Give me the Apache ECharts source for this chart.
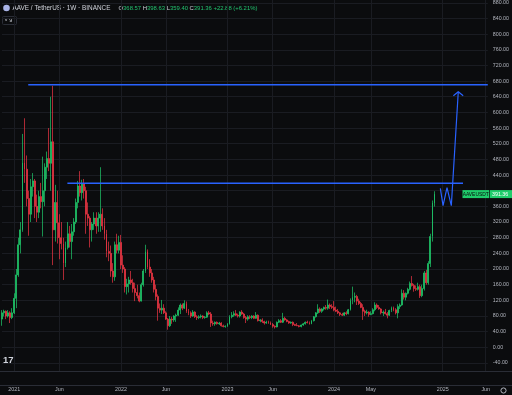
<!DOCTYPE html>
<html><head><meta charset="utf-8">
<script src="https://cdn.jsdelivr.net/npm/echarts@6/dist/echarts.min.js"></script>
<style>html,body{margin:0;padding:0;background:#0b0c0e;}#c{width:512px;height:395px;}</style>
</head><body><div id="c"></div>
<script>
// ---- axis definitions ----
const weekStart = [2020, 10, 23];   // first weekly bar (Mon 23 Nov 2020)
const weekCount = 238;              // bars + empty future space
const xLabelDates = ['2021-01-04','2021-06-07','2022-01-03','2022-06-06','2023-01-02','2023-06-05','2024-01-01','2024-05-06','2025-01-06','2025-06-02'];
const xLabelTexts = ['2021','Jun','2022','Jun','2023','Jun','2024','May','2025','Jun'];
const yTickValues = [-40,0,40,80,120,160,200,240,280,320,360,400,440,480,520,560,600,640,680,720,760,800,840,880];
const yLabelValues = [-40,0,40,80,120,160,200,240,280,320,360,440,480,520,560,600,640,680,720,760,800,840,880];

// ---- weekly candles [open, high, low, close] ----
const ohlc2020 = [
  [72,95,55,88],[88,96,79,92],[92,94,72,80],[80,95,76,88],[88,92,62,76],[76,100,72,88]
];
const ohlc2021 = [
  [88,138,85,125],[125,200,100,185],[185,280,180,262],[262,320,240,300],[300,545,295,472],[472,585,420,455],[455,490,360,380],[380,400,285,340],
  [340,430,320,410],[410,445,385,425],[425,430,330,360],[360,390,320,345],[345,400,330,385],[385,420,355,372],[372,487,283,400],[400,470,360,460],
  [460,500,430,482],[482,560,450,470],[470,640,400,525],[525,668,210,300],[300,415,270,370],[370,400,265,318],[318,340,225,280],[280,320,250,265],
  [265,280,172,215],[215,270,205,255],[255,320,250,290],[290,310,255,270],[270,315,225,295],[295,330,285,320],[320,380,315,370],[370,425,355,412],
  [412,450,385,395],[395,428,375,418],[418,430,380,400],[400,410,290,340],[340,370,310,330],[330,335,255,300],[300,320,270,315],[315,345,300,330],
  [330,345,290,310],[310,345,295,330],[330,460,295,340],[340,355,300,310],[310,330,275,290],[290,300,230,245],[245,270,220,240],[240,260,180,195],
  [195,215,165,180],[180,270,170,262],[262,290,240,248],[248,285,240,268]
];
const ohlc2022 = [
  [268,287,200,210],[210,235,190,200],[200,205,140,155],[155,175,135,162],[162,180,140,172],[172,195,160,165],[165,175,140,150],[150,165,118,140],
  [140,160,125,132],[132,140,115,118],[118,165,117,160],[160,200,155,195],[195,262,190,245],[245,250,200,205],[205,225,180,190],[190,200,165,172],
  [172,180,140,148],[148,160,120,130],[130,135,68,100],[100,112,88,95],[95,121,85,100],[100,110,85,88],[88,92,70,72],[72,75,45,55],
  [55,80,52,72],[72,78,60,70],[70,82,65,80],[80,86,65,82],[82,102,80,95],[95,112,85,108],[108,112,95,100],[100,120,98,112],
  [112,117,88,92],[92,98,82,88],[88,92,75,80],[80,95,78,90],[90,92,75,78],[78,82,70,76],[76,82,72,78],[78,84,74,80],
  [80,82,72,76],[76,80,73,77],[77,92,75,88],[88,93,82,85],[85,90,52,62],[62,68,55,60],[60,66,55,64],[64,66,58,60],
  [60,65,57,62],[62,64,53,55],[55,58,51,53],[53,56,50,54]
];
const ohlc2023 = [
  [54,62,52,60],[60,82,58,78],[78,90,74,82],[82,92,78,86],[86,95,80,82],[82,86,76,80],[80,92,76,90],[90,95,83,85],
  [85,88,73,76],[76,80,62,72],[72,82,68,78],[78,82,72,76],[76,82,72,80],[80,82,72,74],[74,90,73,82],[82,84,66,68],
  [68,72,64,70],[70,74,62,66],[66,68,58,62],[62,68,60,64],[64,68,60,62],[62,66,57,58],[58,62,50,54],[54,56,48,52],
  [52,66,51,64],[64,72,62,68],[68,72,62,64],[64,88,62,74],[74,78,68,70],[70,72,64,66],[66,68,60,62],[62,66,60,64],
  [64,66,54,58],[58,60,55,56],[56,62,54,55],[55,57,51,53],[53,58,51,57],[57,62,55,60],[60,66,58,64],[64,68,61,63],
  [63,66,58,60],[60,70,59,68],[68,80,66,78],[78,90,76,88],[88,110,85,98],[98,102,88,92],[92,100,88,98],[98,104,94,102],
  [102,108,96,100],[100,122,96,108],[108,112,98,104],[104,110,98,102]
];
const ohlc2024 = [
  [102,118,92,95],[95,104,90,92],[92,98,85,88],[88,90,80,84],[84,88,80,82],[82,90,80,88],[88,92,82,86],[86,98,84,96],
  [96,125,94,120],[120,155,110,128],[128,140,115,130],[130,134,108,118],[118,124,108,112],[112,116,100,102],[102,110,70,92],[92,96,80,88],
  [88,96,84,90],[90,92,78,84],[84,92,82,86],[86,100,84,96],[96,115,92,108],[108,112,98,102],[102,108,96,98],[98,100,84,88],
  [88,94,80,90],[90,98,84,86],[86,90,74,82],[82,96,80,94],[94,104,90,100],[100,104,92,96],[96,100,84,88],[88,110,74,104],
  [104,112,98,108],[108,148,106,138],[138,146,122,128],[128,140,120,138],[138,152,135,148],[148,168,145,163],[163,182,155,158],[158,162,142,150],
  [150,158,144,148],[148,165,145,155],[155,160,126,132],[132,160,128,150],[150,195,145,190],[190,198,160,165],[165,220,160,214],[214,290,205,283],
  [283,375,270,368.57],[368.57,398.63,359.40,391.36]
];
const legendChange = '+22.88 (+6.21%)';

// ---- drawings (x in bar-index units, y in price) ----
const resistanceTop = 670.7;
const resistanceTopSpan = [12.8, 237];
const resistanceMid = 419;
const resistanceMidSpan = [31.9, 224.9];
const projectionPath = [[213.85,406],[215.17,361.7],[217.1,407.7],[219.2,361.7],[222.6,652.9]];
const arrowHead = [[220.2,642.7],[222.6,652.9],[225.0,642.7]];

// ---- build ----
function iso(d){return d.toISOString().slice(0,10);}
const weeks = [];
{
  const d = new Date(Date.UTC(weekStart[0], weekStart[1], weekStart[2]));
  for (let i = 0; i < weekCount; i++) { weeks.push(iso(d)); d.setUTCDate(d.getUTCDate() + 7); }
}
const labelMap = {};
xLabelDates.forEach((d, i) => labelMap[d] = xLabelTexts[i]);
const isLabel = (idx, val) => labelMap[val] !== undefined;
const rows = [].concat(ohlc2020, ohlc2021, ohlc2022, ohlc2023, ohlc2024);
const toCandle = r => [r[0], r[3], r[2], r[1]];   // echarts order: open, close, low, high
const upCandles = rows.map(r => r[3] >= r[0] ? toCandle(r) : '-');
const downCandles = rows.map(r => r[3] < r[0] ? toCandle(r) : '-');
const lastRow = rows[rows.length - 1];
const lastClose = lastRow[3];

const UP = '#1fcc6b', DOWN = '#f23645', BLUE = '#2962ff';
const FONT = '"Liberation Sans", Arial, sans-serif';
const solid = c => ({color: c, color0: c, borderColor: c, borderColor0: c, borderColorDoji: c, borderWidth: 0.7, opacity: 1});

const chart = echarts.init(document.getElementById('c'), null, {renderer: 'canvas'});
chart.setOption({
  backgroundColor: '#0b0c0e',
  animation: false,
  grid: {left: 2, right: 22, top: 0, bottom: 24, containLabel: false},
  xAxis: [{
    type: 'category', data: weeks, boundaryGap: false,
    axisLine: {show: false}, axisTick: {show: false},
    axisLabel: {interval: isLabel, formatter: v => labelMap[v] || '', color: '#b2b5be', fontSize: 5.4, fontFamily: FONT, margin: 16, hideOverlap: false},
    splitLine: {show: true, interval: isLabel, lineStyle: {color: '#1a1c22', width: 1}}
  }, {
    type: 'value', min: 0, max: weekCount - 1, show: false
  }],
  yAxis: [{
    type: 'value', position: 'right', min: -60.5, max: 887.1, scale: true,
    axisLine: {show: false},
    axisTick: {show: false, customValues: yTickValues},
    axisLabel: {customValues: yLabelValues, formatter: v => v.toFixed(2), color: '#b2b5be', fontSize: 5.3, fontFamily: FONT, margin: 5},
    splitLine: {show: true, lineStyle: {color: '#1a1c22', width: 1}}
  }],
  series: [{
    type: 'candlestick', name: 'up', xAxisIndex: 0, yAxisIndex: 0, data: upCandles, barWidth: 1.4,
    itemStyle: solid(UP), emphasis: {disabled: true}
  }, {
    type: 'candlestick', name: 'down', xAxisIndex: 0, yAxisIndex: 0, data: downCandles, barWidth: 1.4,
    itemStyle: solid(DOWN), emphasis: {disabled: true}
  }, {
    type: 'line', xAxisIndex: 1, yAxisIndex: 0, symbol: 'none', z: 5,
    data: [[resistanceTopSpan[0], resistanceTop], [resistanceTopSpan[1], resistanceTop]],
    lineStyle: {color: BLUE, width: 1.4}
  }, {
    type: 'line', xAxisIndex: 1, yAxisIndex: 0, symbol: 'none', z: 5,
    data: [[resistanceMidSpan[0], resistanceMid], [resistanceMidSpan[1], resistanceMid]],
    lineStyle: {color: BLUE, width: 1.4}
  }, {
    type: 'line', xAxisIndex: 1, yAxisIndex: 0, symbol: 'none', z: 5,
    data: projectionPath, lineStyle: {color: BLUE, width: 1.2}
  }, {
    type: 'line', xAxisIndex: 1, yAxisIndex: 0, symbol: 'none', z: 5,
    data: arrowHead, lineStyle: {color: BLUE, width: 1.2}
  }],
  graphic: [
    {type: 'line', shape: {x1: 0, y1: 371.5, x2: 512, y2: 371.5}, style: {stroke: '#2a2d36', lineWidth: 1}},
    {type: 'line', shape: {x1: 0, y1: 385.5, x2: 512, y2: 385.5}, style: {stroke: '#2a2d36', lineWidth: 1}},
    {type: 'circle', shape: {cx: 6.5, cy: 8, r: 3.3}, style: {fill: '#a9b3e6'}},
    {type: 'text', x: 12.5, y: 8.5, style: {text: 'AAVE / TetherUS · 1W · BINANCE', fill: '#d1d4dc', font: '6.4px ' + FONT, verticalAlign: 'middle'}},
    {type: 'text', x: 118.5, y: 8.5, style: {
      text: '{l|O}{g|' + lastRow[0].toFixed(2) + '} {l|H}{g|' + lastRow[1].toFixed(2) + '} {l|L}{g|' + lastRow[2].toFixed(2) + '} {l|C}{g|' + lastRow[3].toFixed(2) + '} {g|' + legendChange + '}',
      verticalAlign: 'middle', font: '5.9px ' + FONT,
      rich: {l: {fill: '#d1d4dc', font: '5.9px ' + FONT}, g: {fill: '#22c36f', font: '5.9px ' + FONT}}
    }},
    {type: 'rect', shape: {x: 2.5, y: 16.5, width: 14, height: 8, r: 1}, style: {fill: 'none', stroke: '#2a2d36', lineWidth: 1}},
    {type: 'text', x: 4.5, y: 20.8, style: {text: '˅ 9', fill: '#d1d4dc', font: '5.5px ' + FONT, verticalAlign: 'middle'}},
    {type: 'text', x: 3, y: 360, style: {text: '17', fill: '#d1d4dc', font: 'bold 9.5px ' + FONT, verticalAlign: 'middle'}},
    {type: 'circle', shape: {cx: 503.5, cy: 390.5, r: 2.6}, style: {fill: 'none', stroke: '#b2b5be', lineWidth: 1}}
  ]
});

// last-price tag on the price scale, placed through the axis scale
const py = chart.convertToPixel({yAxisIndex: 0}, lastClose);
chart.setOption({
  graphic: [
    {id: 'tagA', type: 'rect', z: 50, shape: {x: 462.5, y: py - 4, width: 26.5, height: 8}, style: {fill: UP}},
    {id: 'tagAt', type: 'text', z: 51, x: 475.7, y: py + 0.3, style: {text: 'AAVEUSDT', fill: '#0b0c0e', font: '4.9px ' + FONT, align: 'center', verticalAlign: 'middle'}},
    {id: 'tagB', type: 'rect', z: 50, shape: {x: 489.7, y: py - 4, width: 22.3, height: 8}, style: {fill: UP}},
    {id: 'tagBt', type: 'text', z: 51, x: 492, y: py + 0.3, style: {text: lastClose.toFixed(2), fill: '#ffffff', font: '5.3px ' + FONT, verticalAlign: 'middle'}}
  ]
});
</script>
</body></html>
